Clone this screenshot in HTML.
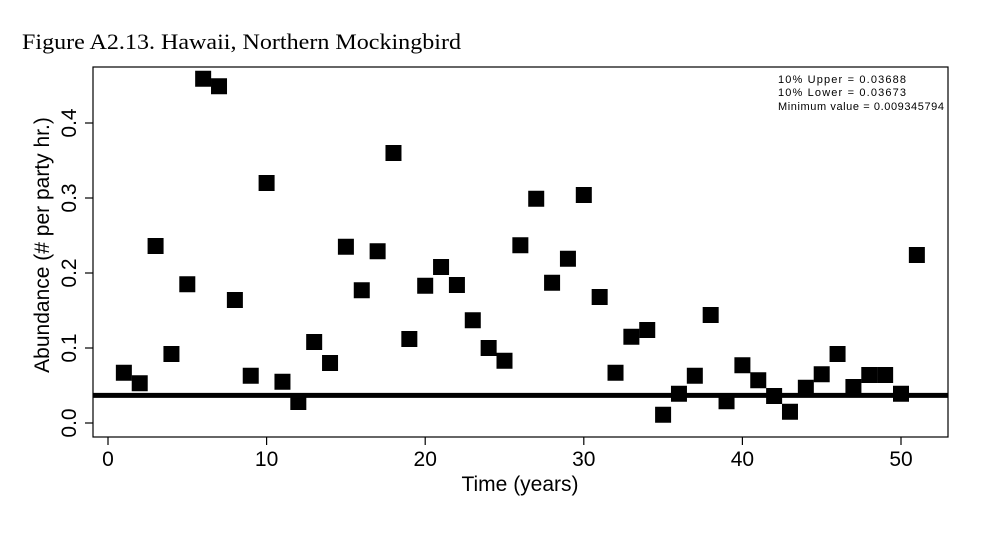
<!DOCTYPE html>
<html><head><meta charset="utf-8"><style>
body{margin:0;background:#fff;}
svg{display:block;}
</style></head><body>
<svg id="chart" width="991" height="542" xmlns="http://www.w3.org/2000/svg">
<text x="22" y="49" font-family="Liberation Serif, serif" font-size="22" textLength="439" lengthAdjust="spacingAndGlyphs">Figure A2.13. Hawaii, Northern Mockingbird</text>
<rect x="93" y="67" width="855" height="370" fill="none" stroke="#000" stroke-width="1.2"/>
<g id="xt"></g>
<g id="yt"></g>
<text x="520" y="491" text-anchor="middle" font-family="Liberation Sans, sans-serif" font-size="21">Time (years)</text>
<text transform="translate(49,245) rotate(-90)" text-anchor="middle" font-family="Liberation Sans, sans-serif" font-size="21">Abundance (# per party hr.)</text>
<g font-family="Liberation Sans, sans-serif" font-size="11">
<text x="778" y="83" textLength="128" lengthAdjust="spacing">10% Upper =  0.03688</text>
<text x="778" y="96" textLength="128" lengthAdjust="spacing">10% Lower =  0.03673</text>
<text x="778" y="110" textLength="166" lengthAdjust="spacing">Minimum value =  0.009345794</text>
</g>
<g id="marks"></g>
</svg>
<script>
const years=[1,2,3,4,5,6,7,8,9,10,11,12,13,14,15,16,17,18,19,20,21,22,23,24,25,26,27,28,29,30,31,32,33,34,35,36,37,38,39,40,41,42,43,44,45,46,47,48,49,50,51];
const abundance=[0.067,0.053,0.236,0.092,0.185,0.459,0.449,0.164,0.063,0.32,0.055,0.028,0.108,0.08,0.235,0.177,0.229,0.36,0.112,0.183,0.208,0.184,0.137,0.1,0.083,0.237,0.299,0.187,0.219,0.304,0.168,0.067,0.115,0.124,0.011,0.039,0.063,0.144,0.029,0.077,0.057,0.036,0.015,0.047,0.065,0.092,0.048,0.064,0.064,0.039,0.224];
const xTicks=[0,10,20,30,40,50];
const yTicks=[0.0,0.1,0.2,0.3,0.4];
const yTickLabels=["0.0","0.1","0.2","0.3","0.4"];
const threshold=[0.03688];
const NS="http://www.w3.org/2000/svg";
const sx=v=>108+v*(901-108)/50;
const sy=v=>423-v*750;
function mk(t,a,p){const e=document.createElementNS(NS,t);for(const k in a)e.setAttribute(k,a[k]);p.appendChild(e);return e;}
const xt=document.getElementById('xt'),yt=document.getElementById('yt'),marks=document.getElementById('marks');
xTicks.forEach(v=>{
 const l=mk('line',{x1:sx(v),x2:sx(v),y1:437,y2:445,stroke:'#000','stroke-width':1.2},xt);
 
 
 const t=mk('text',{x:sx(v),y:466,'text-anchor':'middle','font-family':'Liberation Sans, sans-serif','font-size':21},xt);
 t.textContent=v;
 
 
});
yTicks.forEach((v,i)=>{
 const l=mk('line',{x1:85,x2:93,y1:sy(v),y2:sy(v),stroke:'#000','stroke-width':1.2},yt);
 
 
 const t=mk('text',{transform:`translate(76,${sy(v)}) rotate(-90)`,'text-anchor':'middle','font-family':'Liberation Sans, sans-serif','font-size':21},yt);
 t.textContent=yTickLabels[i];
 
 
});
threshold.forEach(v=>{
 const l=mk('line',{x1:93,x2:948,y1:sy(v),y2:sy(v),stroke:'#000','stroke-width':5},marks);
 
 
});
years.forEach((yr,i)=>{
 const r=mk('rect',{x:sx(yr)-8,y:sy(abundance[i])-8,width:16,height:16,fill:'#000'},marks);
 
 
});
</script>
</body></html>
